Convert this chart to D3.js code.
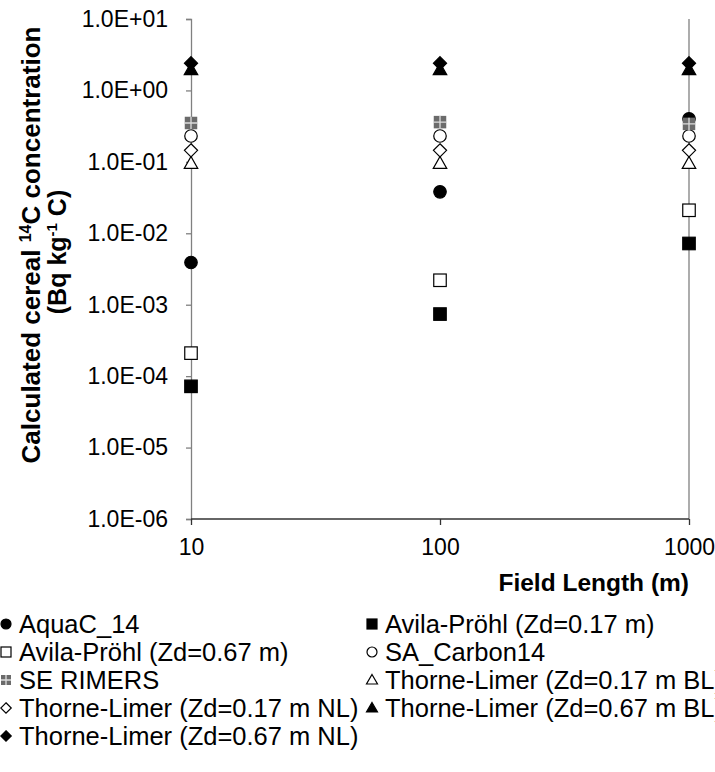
<!DOCTYPE html>
<html>
<head>
<meta charset="utf-8">
<script src="https://cdn.jsdelivr.net/npm/d3@7"></script>
<style>
  body { margin: 0; background: #fff; }
  svg { font-family: "Liberation Sans", Arial, sans-serif; }
</style>
</head>
<body>
<script>
const WIDTH = 715;
const HEIGHT = 772;
const LEFT = 191, RIGHT = 689, TOP = 19, BOTTOM = 519;

// data
var fieldLengths = [10, 100, 1000];
var aquaC14 = [0.0039, 0.038, 0.40];
var avila017 = [0.000072, 0.00074, 0.0072];
var avila067 = [0.00021, 0.0022, 0.021];
var saCarbon14 = [0.23, 0.23, 0.23];
var seRimers = [0.35, 0.36, 0.34];
var thorne017BL = [0.095, 0.095, 0.095];
var thorne017NL = [0.145, 0.145, 0.145];
var thorne067BL = [1.95, 1.95, 1.95];
var thorne067NL = [2.4, 2.4, 2.4];

var yTicks = [1e-6, 1e-5, 1e-4, 1e-3, 1e-2, 1e-1, 1, 10];
var yTickLabels = ['1.0E-06', '1.0E-05', '1.0E-04', '1.0E-03', '1.0E-02', '1.0E-01', '1.0E+00', '1.0E+01'];
var xTicks = [10, 100, 1000];

var series = [
  {name: 'AquaC_14', values: aquaC14, shape: 'circle', fill: '#000'},
  {name: 'Avila-Pröhl (Zd=0.17 m)', values: avila017, shape: 'square', fill: '#000'},
  {name: 'Avila-Pröhl (Zd=0.67 m)', values: avila067, shape: 'square', fill: '#fff'},
  {name: 'SA_Carbon14', values: saCarbon14, shape: 'circle', fill: '#fff'},
  {name: 'SE RIMERS', values: seRimers, shape: 'grid', fill: '#6b6b6b'},
  {name: 'Thorne-Limer (Zd=0.17 m BL)', values: thorne017BL, shape: 'triangle', fill: '#fff'},
  {name: 'Thorne-Limer (Zd=0.17 m NL)', values: thorne017NL, shape: 'diamond', fill: '#fff'},
  {name: 'Thorne-Limer (Zd=0.67 m BL)', values: thorne067BL, shape: 'triangle', fill: '#000'},
  {name: 'Thorne-Limer (Zd=0.67 m NL)', values: thorne067NL, shape: 'diamond', fill: '#000'}
];

var svg = d3.select('body').append('svg')
  .attr('width', WIDTH)
  .attr('height', HEIGHT);

var x = d3.scaleLog().domain([10, 1000]).range([LEFT, RIGHT]);
var y = d3.scaleLog().domain([1e-6, 10]).range([BOTTOM, TOP]);

// right border line
svg.append('line')
  .attr('x1', x(1000)).attr('x2', x(1000))
  .attr('y1', y(10)).attr('y2', y(1e-6))
  .style('stroke', '#808080').style('stroke-width', 1.3);

var yAxis = svg.append('g')
  .attr('transform', 'translate(' + LEFT + ',0)')
  .call(d3.axisLeft(y).tickValues(yTicks).tickSize(5).tickPadding(18)
    .tickFormat(function(d, i) { return yTickLabels[i]; }));
yAxis.selectAll('path, line').style('stroke', '#808080').style('stroke-width', 1.3);
yAxis.selectAll('text').style('font-size', '23px').style('fill', '#000')
  .style('font-family', '"Liberation Sans", Arial, sans-serif');

var xAxis = svg.append('g')
  .attr('transform', 'translate(0,' + BOTTOM + ')')
  .call(d3.axisBottom(x).tickValues(xTicks).tickSize(6).tickPadding(14)
    .tickFormat(d3.format('d')));
xAxis.select('.domain').attr('d', 'M' + LEFT + ',0H' + RIGHT);
xAxis.selectAll('path, line').style('stroke', '#333').style('stroke-width', 1.3);
xAxis.selectAll('text').style('font-size', '23px').style('fill', '#000')
  .style('font-family', '"Liberation Sans", Arial, sans-serif');

// axis titles
svg.append('text')
  .attr('x', RIGHT).attr('y', 591)
  .attr('text-anchor', 'end')
  .style('font-size', '24.5px').style('font-weight', 'bold')
  .text('Field Length (m)');

var yt = svg.append('text')
  .attr('transform', 'translate(40,245) rotate(-90)')
  .attr('text-anchor', 'middle')
  .style('font-size', '26px').style('font-weight', 'bold');
yt.append('tspan').text('Calculated cereal ');
yt.append('tspan').attr('dy', -9).style('font-size', '16px').text('14');
yt.append('tspan').attr('dy', 9).text('C concentration');

var yt2 = svg.append('text')
  .attr('transform', 'translate(66,252) rotate(-90)')
  .attr('text-anchor', 'middle')
  .style('font-size', '25px').style('font-weight', 'bold');
yt2.append('tspan').text('(Bq kg');
yt2.append('tspan').attr('dy', -9).style('font-size', '15px').text('-1');
yt2.append('tspan').attr('dy', 9).text(' C)');

// draw a marker shape into a group
function drawMarker(g, s, size) {
  var h = size / 2;
  if (s.shape === 'circle') {
    g.append('circle').attr('r', h)
      .style('fill', s.fill).style('stroke', '#000').style('stroke-width', 1.2);
  } else if (s.shape === 'square') {
    g.append('rect').attr('x', -h).attr('y', -h).attr('width', size).attr('height', size)
      .style('fill', s.fill).style('stroke', '#000').style('stroke-width', 1.2);
  } else if (s.shape === 'grid') {
    g.append('rect').attr('x', -h).attr('y', -h).attr('width', size).attr('height', size)
      .style('fill', s.fill);
    g.append('path').attr('d', 'M0,' + (-h) + 'V' + h + 'M' + (-h) + ',0H' + h)
      .style('stroke', '#ddd').style('stroke-width', 1.3);
  } else if (s.shape === 'triangle') {
    var th = size * 0.95;
    g.append('path')
      .attr('d', 'M0,' + (-th * 0.58) + 'L' + (h + 0.5) + ',' + (th * 0.42) + 'L' + (-h - 0.5) + ',' + (th * 0.42) + 'Z')
      .style('fill', s.fill).style('stroke', '#000').style('stroke-width', 1.2);
  } else if (s.shape === 'diamond') {
    var d = h * 1.05;
    g.append('path')
      .attr('d', 'M0,' + (-d) + 'L' + d + ',0L0,' + d + 'L' + (-d) + ',0Z')
      .style('fill', s.fill).style('stroke', '#000').style('stroke-width', 1.2);
  }
}

// points
series.forEach(function(s) {
  var pts = svg.append('g').selectAll('g')
    .data(s.values)
    .enter().append('g')
    .attr('transform', function(d, i) { return 'translate(' + x(fieldLengths[i]) + ',' + y(d) + ')'; });
  pts.each(function() { drawMarker(d3.select(this), s, 12.5); });
});

// legend, two columns
var legend = svg.append('g');
series.forEach(function(s, i) {
  var col = i % 2, row = Math.floor(i / 2);
  var lx = col === 0 ? 6 : 372;
  var ly = 624 + row * 28;
  var g = legend.append('g').attr('transform', 'translate(' + lx + ',' + ly + ')');
  drawMarker(g, s, 10);
  g.append('text')
    .attr('x', 13).attr('y', 9)
    .style('font-size', '25.5px')
    .text(s.name);
});
</script>
</body>
</html>
